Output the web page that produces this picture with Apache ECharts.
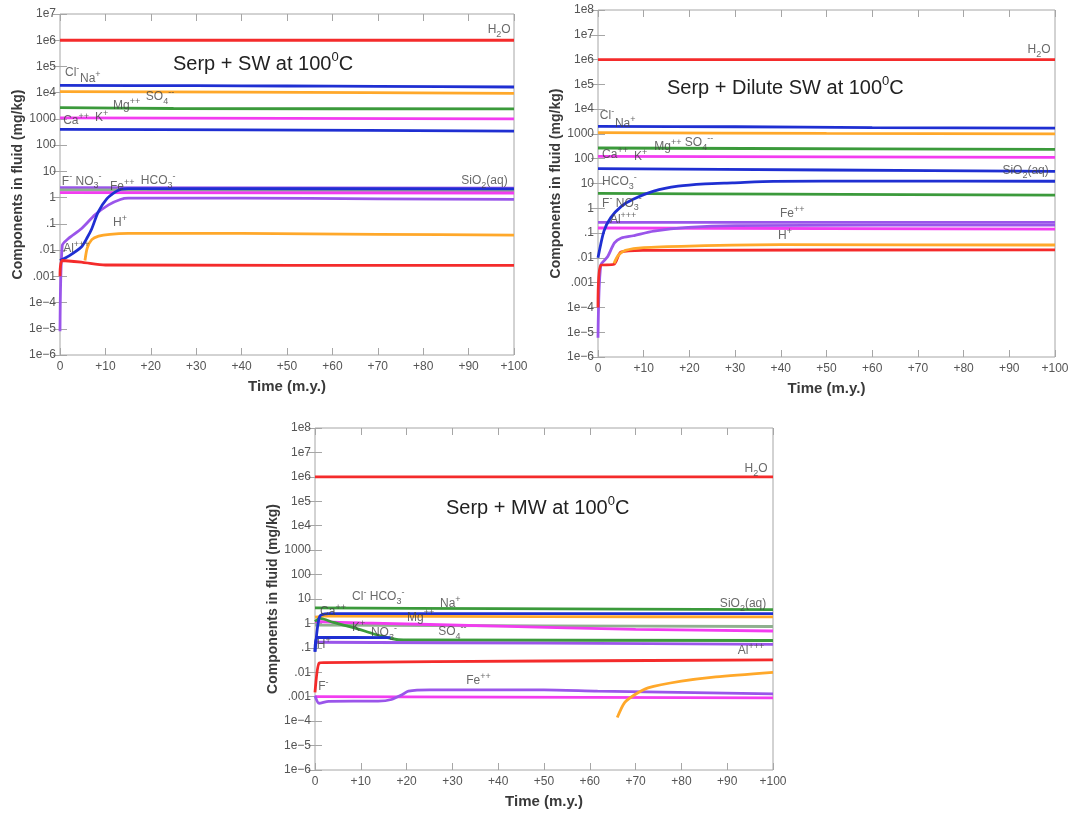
<!DOCTYPE html>
<html><head><meta charset="utf-8">
<script src="https://cdn.jsdelivr.net/npm/echarts@6/dist/echarts.min.js"></script>
<style>html,body{margin:0;padding:0;background:#fff}#c{width:1082px;height:818px}</style>
</head><body><div id="c"></div>
<script>
// ---------- tick labels ----------
const xTickLabels = ['0','+10','+20','+30','+40','+50','+60','+70','+80','+90','+100'];
const yTickLabels = ['1e\u22126','1e\u22125','1e\u22124','.001','.01','.1','1','10','100','1000','1e4','1e5','1e6','1e7','1e8']; // exponent -6..8
const titles = ['Serp + SW at 100', 'Serp + Dilute SW at 100', 'Serp + MW at 100'];
const yName = 'Components in fluid (mg/kg)';
const xName = 'Time (m.y.)';

// ---------- Panel 1 : Serp + SW ----------
const p1_H2O  = [[0,1e6],[100,1e6]];
const p1_Cl   = [[0,1.9e4],[30,1.85e4],[50,1.8e4],[70,1.75e4],[100,1.65e4]];
const p1_Na   = [[0,1.1e4],[40,1.05e4],[100,9.5e3]];
const p1_SO4  = [[0,2.7e3],[25,2.5e3],[100,2.4e3]];
const p1_Mg   = [[0,1.1e3],[100,1.0e3]];
const p1_CaK  = [[0,400],[40,380],[100,345]];
const p1_F    = [[0,2.4],[100,2.3]];
const p1_SiO2 = [[0,1.95],[100,1.85]];
const p1_NO3  = [[0,1.55],[100,1.5]];
const p1_Fe   = [[0,8e-6],[0.5,0.015],[1.8,0.027],[4.7,0.065],[7.7,0.22],[10.7,0.53],[13.3,0.85],[15,0.95],[40,0.95],[70,0.9],[100,0.85]];
const p1_HCO3 = [[0,0.004],[2,0.006],[4.7,0.013],[6,0.03],[7,0.065],[8.4,0.28],[10.3,0.9],[12.2,1.65],[13.5,2.1],[15,2.2],[100,2.15]];
const p1_H    = [[5.5,0.004],[6,0.012],[7,0.025],[8.5,0.034],[11,0.04],[15,0.043],[40,0.043],[70,0.04],[100,0.037]];
const p1_Al   = [[0,0.001],[0.5,0.004],[5,0.0034],[10,0.0027],[100,0.0026]];
const p1_labels = [
  [94.2,2.45e6,'H_2O'],[1.1,5.6e4,'Cl^-'],[4.4,3.3e4,'Na^+'],[11.7,3.1e3,'Mg^++'],[18.9,6.9e3,'SO_4^--'],
  [0.7,830,'Ca^++'],[7.7,1.1e3,'K^+'],[0.4,4.2,'F^- NO_3^-'],[11,2.5,'Fe^++'],[17.8,4.3,'HCO_3^-'],
  [88.4,4.3,'SiO_2(aq)'],[11.7,0.11,'H^+'],[0.7,0.011,'Al^+++']
];

// ---------- Panel 2 : Serp + Dilute SW ----------
const p2_H2O  = [[0,1e6],[100,1e6]];
const p2_Cl   = [[0,2.0e3],[30,1.95e3],[60,1.8e3],[100,1.7e3]];
const p2_Na   = [[0,1.13e3],[50,1.05e3],[100,1.0e3]];
const p2_SO4  = [[0,270],[60,250],[100,240]];
const p2_Mg   = [[0,125],[100,113]];
const p2_CaK  = [[0,40],[50,35],[100,31]];
const p2_SiO2 = [[0,0.01],[1.3,0.12],[2.8,0.42],[5.1,1.2],[7.7,2.3],[12.2,4.9],[17.5,7.8],[23.4,9.7],[29.4,10.6],[38.4,12.2],[60,12.5],[100,12.3]];
const p2_HCO3 = [[0,4.0],[40,3.7],[100,3.4]];
const p2_F    = [[0,0.27],[100,0.27]];
const p2_NO3  = [[0,0.16],[100,0.145]];
const p2_Fe   = [[0,6e-6],[0.6,0.005],[2.1,0.011],[3.6,0.04],[5.1,0.063],[7.7,0.078],[12.2,0.12],[19.7,0.17],[30,0.2],[100,0.21]];
const p2_H    = [[3.5,0.006],[4.5,0.013],[6,0.02],[10,0.026],[20,0.03],[40,0.034],[100,0.033]];
const p2_Al   = [[0,1e-4],[0.6,0.005],[3.5,0.0055],[5,0.017],[10,0.02],[100,0.021]];
const p2_labels = [
  [94,2.4e6,'H_2O'],[0.4,5.2e3,'Cl^-'],[3.7,2.5e3,'Na^+'],[12.3,295,'Mg^++'],[19,430,'SO_4^--'],
  [0.9,140,'Ca^++'],[7.9,118,'K^+'],[0.9,11.5,'HCO_3^-'],[88.5,33,'SiO_2(aq)'],[0.9,1.6,'F^- NO_3^-'],
  [39.8,0.59,'Fe^++'],[2.6,0.34,'Al^+++'],[39.4,0.076,'H^+']
];

// ---------- Panel 3 : Serp + MW ----------
const p3_H2O  = [[0,1e6],[100,1e6]];
const p3_Cl   = [[0,4.3],[40,4.0],[100,3.7]];
const p3_Ca   = [[0,1.8],[2,2.0],[50,1.9],[100,1.85]];
const p3_K    = [[0,0.85],[50,0.8],[100,0.75]];
const p3_Mg   = [[0,1.2],[10,1.05],[40,0.78],[70,0.57],[100,0.49]];
const p3_SO4  = [[0,1.2],[1.1,1.6],[4,1.1],[7.6,0.74],[11,0.48],[14.5,0.3],[17.8,0.22],[20,0.21],[100,0.2]];
const p3_Al   = [[0,0.17],[50,0.155],[100,0.14]];
const p3_NO3  = [[0,0.07],[0.5,0.27],[16.5,0.26]];
const p3_Na   = [[0,0.07],[0.5,0.6],[1,1.9],[1.5,2.3],[3,2.5],[100,2.5]];
const p3_F    = [[0,0.0015],[0.9,0.024],[2,0.025],[50,0.029],[100,0.032]];
const p3_H    = [[66,1.4e-4],[67.6,5.7e-4],[69.8,0.0012],[72.7,0.0023],[80,0.0043],[87.5,0.0065],[100,0.01]];
const p3_Fe   = [[0,0.0011],[0.9,5.4e-4],[3,6.5e-4],[13.8,6.6e-4],[16.7,7.7e-4],[19,0.0012],[20.4,0.0017],[25,0.0019],[50,0.0019],[61.7,0.0017],[100,0.0013]];
const p3_X    = [[0,0.001],[100,0.0009]];
const p3_labels = [
  [93.8,2.1e6,'H_2O'],[8.1,12,'Cl^- HCO_3^-'],[27.3,6.3,'Na^+'],[20.1,1.8,'Mg^++'],[1.1,2.9,'Ca^++'],
  [8.1,0.65,'K^+'],[12.2,0.4,'NO_3^-'],[26.9,0.45,'SO_4^--'],[0.4,0.13,'H^+'],[0.7,0.0025,'F^-'],
  [33,0.0044,'Fe^++'],[92.3,0.074,'Al^+++'],[88.4,6.3,'SiO_2(aq)']
];

// ---------- styling ----------
const RED='#f42b2b', BLUE='#1f2fd2', ORANGE='#ffa82a', GREEN='#3b9a3b', MAG='#f23cf0', PUR='#9a55ea', GG='#8fb08f';
const FONT = '"Liberation Sans", Arial, Helvetica, sans-serif';
const AX = '#a6a6a6';

const panels = [
  {grid:{left:60, top:14, width:454, height:341}, ymin:1e-6, ymax:1e7,
   title:{left:168, top:46},
   series:[[p1_H2O,RED],[p1_Cl,BLUE],[p1_Na,ORANGE],[p1_SO4,GREEN],[p1_Mg,MAG],[p1_CaK,BLUE],
           [p1_F,PUR],[p1_SiO2,GG],[p1_NO3,MAG],[p1_Fe,PUR],[p1_HCO3,BLUE],[p1_H,ORANGE],[p1_Al,RED]],
   labels:p1_labels},
  {grid:{left:598, top:10, width:457, height:347}, ymin:1e-6, ymax:1e8,
   title:{left:662, top:70},
   series:[[p2_H2O,RED],[p2_Cl,BLUE],[p2_Na,ORANGE],[p2_SO4,GREEN],[p2_Mg,MAG],[p2_CaK,BLUE],
           [p2_HCO3,GREEN],[p2_F,PUR],[p2_NO3,MAG],[p2_Fe,PUR],[p2_SiO2,BLUE],[p2_Al,RED],[p2_H,ORANGE]],
   labels:p2_labels},
  {grid:{left:315, top:428, width:458, height:342}, ymin:1e-6, ymax:1e8,
   title:{left:441, top:490},
   series:[[p3_H2O,RED],[p3_Cl,GREEN],[p3_Ca,ORANGE],[p3_K,GG],[p3_Mg,MAG],[p3_SO4,GREEN],
           [p3_Al,PUR],[p3_NO3,BLUE],[p3_Na,BLUE],[p3_F,RED],[p3_X,MAG],[p3_Fe,PUR],[p3_H,ORANGE]],
   labels:p3_labels}
];

function rt(s){
  return s.replace(/\^([^\s_^]+)/g,'{sup|$1}').replace(/_([0-9])/g,'{sub|$1}');
}
function yfmt(v){ const e=Math.round(Math.log10(v)); return yTickLabels[e+6] || ''; }
function xfmt(v){ return xTickLabels[Math.round(v/10)] || ''; }

const option = {backgroundColor:'#fff', animation:false, title:[], grid:[], xAxis:[], yAxis:[], series:[]};
const tickStyle = {show:true, inside:true, length:7, lineStyle:{color:AX, width:1}};

panels.forEach((p,i)=>{
  option.grid.push(Object.assign({show:true, borderColor:AX, borderWidth:1, containLabel:false}, p.grid));
  option.title.push({left:p.title.left, top:p.title.top,
    text:'{t|'+titles[i]+'}{s|0}{t|C}',
    textStyle:{fontWeight:'normal', rich:{t:{fontSize:20, fontWeight:'normal', color:'#222', fontFamily:FONT, lineHeight:27},
                     s:{fontSize:13, fontWeight:'normal', color:'#222', fontFamily:FONT, verticalAlign:'top', lineHeight:27}}}});
  // bottom x
  option.xAxis.push({type:'value', gridIndex:i, min:0, max:100, interval:10, position:'bottom',
    axisLine:{show:false}, axisTick:tickStyle, splitLine:{show:false},
    axisLabel:{formatter:xfmt, color:'#555', fontSize:12, fontFamily:FONT, margin:6},
    name:xName, nameLocation:'middle', nameGap:24,
    nameTextStyle:{fontSize:15, fontWeight:'bold', color:'#3a3a3a', fontFamily:FONT}});
  // top x (ticks only)
  option.xAxis.push({type:'value', gridIndex:i, min:0, max:100, interval:10, position:'top',
    axisLine:{show:false}, axisTick:tickStyle, axisLabel:{show:false}, splitLine:{show:false}});
  // left y
  option.yAxis.push({type:'log', logBase:10, gridIndex:i, min:p.ymin, max:p.ymax, interval:1, position:'left',
    axisLine:{show:false}, axisTick:tickStyle, splitLine:{show:false}, minorTick:{show:false},
    axisLabel:{formatter:yfmt, color:'#555', fontSize:12, fontFamily:FONT, margin:4, showMinLabel:true, showMaxLabel:true},
    name:yName, nameLocation:'middle', nameGap:35,
    nameTextStyle:{fontSize:14, fontWeight:'bold', color:'#3a3a3a', fontFamily:FONT}});
  // right y (ticks only)
  option.yAxis.push({type:'log', logBase:10, gridIndex:i, min:p.ymin, max:p.ymax, interval:1, position:'right',
    axisLine:{show:false}, axisTick:tickStyle, axisLabel:{show:false}, splitLine:{show:false}});

  p.series.forEach(([d,c])=>{
    option.series.push({type:'line', xAxisIndex:2*i, yAxisIndex:2*i, data:d, showSymbol:false, symbol:'none',
      smooth:0.25, lineStyle:{color:c, width:2.8}, itemStyle:{color:c}, silent:true});
  });
  option.series.push({type:'scatter', xAxisIndex:2*i, yAxisIndex:2*i, symbolSize:0, silent:true, z:20,
    data:p.labels.map(l=>({value:[l[0],l[1]], label:{formatter:rt(l[2])}})),
    label:{show:true, position:'right', distance:0, color:'#444', fontSize:12, fontFamily:FONT, lineHeight:18,
      rich:{sup:{fontSize:9, color:'#444', fontFamily:FONT, verticalAlign:'top', lineHeight:18},
            sub:{fontSize:9, color:'#444', fontFamily:FONT, verticalAlign:'bottom', lineHeight:18}}}});
});

const chart = echarts.init(document.getElementById('c'), null, {renderer:'canvas'});
chart.setOption(option);
</script></body></html>
